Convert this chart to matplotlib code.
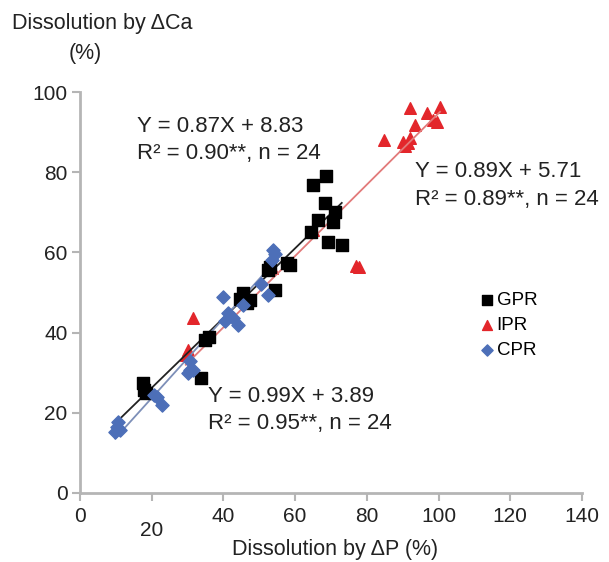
import numpy as np
import matplotlib.pyplot as plt
from matplotlib.transforms import ScaledTranslation

plt.rcParams['font.family'] = ['Liberation Sans', 'DejaVu Sans']

# GPR (black squares)
gpr_x = [17.6, 17.8, 18.5, 33.7, 34.9, 44.5, 45.5, 46.6, 47.4, 52.5, 53.0, 54.4,
         57.7, 58.6, 64.4, 65.0, 66.4, 68.3, 68.6, 69.2, 70.5, 71.1, 73.0, 36.0]
gpr_y = [27.4, 25.7, 25.0, 28.7, 38.2, 48.5, 49.9, 47.4, 48.1, 55.5, 56.4, 50.6,
         57.4, 56.9, 65.0, 76.8, 68.0, 72.3, 79.0, 62.6, 67.5, 70.0, 61.8, 39.0]

# IPR (red triangles)
ipr_x = [29.5, 30.1, 31.5, 77.0, 77.8, 84.8, 90.0, 90.5, 91.5, 92.0, 92.0,
         93.4, 96.8, 98.4, 99.5, 100.4, 45.5, 53.5, 65.0]
ipr_y = [34.5, 35.7, 43.6, 56.6, 56.4, 88.0, 87.5, 86.5, 87.3, 88.5, 96.0,
         91.8, 94.8, 93.0, 92.5, 96.3, 49.5, 56.0, 65.5]

# CPR (blue diamonds)
cpr_x = [9.8, 10.3, 10.6, 11.2, 20.5, 21.5, 22.9, 30.0, 30.7, 30.7, 31.5,
         39.9, 40.5, 41.3, 42.7, 44.0, 45.5, 50.5, 52.4, 53.5, 53.8, 54.5]
cpr_y = [15.2, 16.5, 17.7, 15.7, 24.5, 23.9, 21.9, 30.0, 30.7, 33.0, 30.7,
         48.9, 43.0, 44.9, 43.6, 41.9, 47.0, 52.0, 49.4, 58.1, 60.6, 59.5]

# fitted equations (slope, intercept)
fits = {'GPR': (0.87, 8.83), 'IPR': (0.89, 5.71), 'CPR': (0.99, 3.89)}

fig = plt.figure(figsize=(6.09, 5.62), dpi=100)
ax = fig.add_axes([80 / 609, 1 - 493 / 562, 502 / 609, 401 / 562])

ax.scatter(gpr_x, gpr_y, marker='s', s=70, color='black', zorder=3, label='GPR')
ax.scatter(ipr_x, ipr_y, marker='^', s=70, color='#e3262b', zorder=2, label='IPR')
ax.scatter(cpr_x, cpr_y, marker='D', s=45, color='#4d6fb8', zorder=4, label='CPR')

line_col = {'GPR': '#222222', 'IPR': '#e27a7a', 'CPR': '#7d8fb8'}
ranges = {'GPR': (10, 73), 'IPR': (29.5, 100.4), 'CPR': (9.8, 54.5)}
for k, (a, b) in fits.items():
    xs = np.array(ranges[k])
    ax.plot(xs, a * xs + b, color=line_col[k], lw=1.3, zorder=2.5)

ax.set_xlim(0, 140)
ax.set_ylim(0, 100)
ax.set_xticks(range(0, 141, 20))
ax.set_yticks(range(0, 101, 20))
for s in ['top', 'right']:
    ax.spines[s].set_visible(False)
for s in ['left', 'bottom']:
    ax.spines[s].set_color('#b5b5b5')
    ax.spines[s].set_linewidth(2)
ax.tick_params(colors='#b5b5b5', width=1.5, length=6, labelsize=15,
               labelcolor='#222222')
ax.tick_params(axis='x', pad=4)
ax.tick_params(axis='y', pad=3)

# the "20" label sits lower in the original
lab = ax.get_xticklabels()[1]
lab.set_transform(lab.get_transform() + ScaledTranslation(0, -10 / 72, fig.dpi_scale_trans))

fig.text(12 / 609, 1 - 24 / 562, 'Dissolution by \u0394Ca', fontsize=15.5,
         color='#222222', va='center', ha='left')
fig.text(85 / 609, 1 - 54 / 562, '(%)', fontsize=15.5, color='#222222',
         va='center', ha='center')
fig.text(335 / 609, 1 - 549 / 562, 'Dissolution by \u0394P (%)', fontsize=15.5,
         color='#222222', va='center', ha='center')

eq = [(137, 126, 'Y = 0.87X + 8.83', 'R\u00b2 = 0.90**, n = 24'),
      (415, 171, 'Y = 0.89X + 5.71', 'R\u00b2 = 0.89**, n = 24'),
      (208, 396, 'Y = 0.99X + 3.89', 'R\u00b2 = 0.95**, n = 24')]
for px, py, l1, l2 in eq:
    fig.text(px / 609, 1 - py / 562, l1, fontsize=16, color='#222222', va='center')
    fig.text(px / 609, 1 - (py + 28) / 562, l2, fontsize=16, color='#222222', va='center')

ax.legend(loc='upper left', bbox_to_anchor=(478 / 609, 1 - 292 / 562),
          bbox_transform=fig.transFigure, frameon=False, fontsize=13.5,
          handletextpad=0.0, labelspacing=0.42, handlelength=1.0,
          borderaxespad=0, borderpad=0, markerscale=0.85)

fig.savefig('out.png', dpi=100)
